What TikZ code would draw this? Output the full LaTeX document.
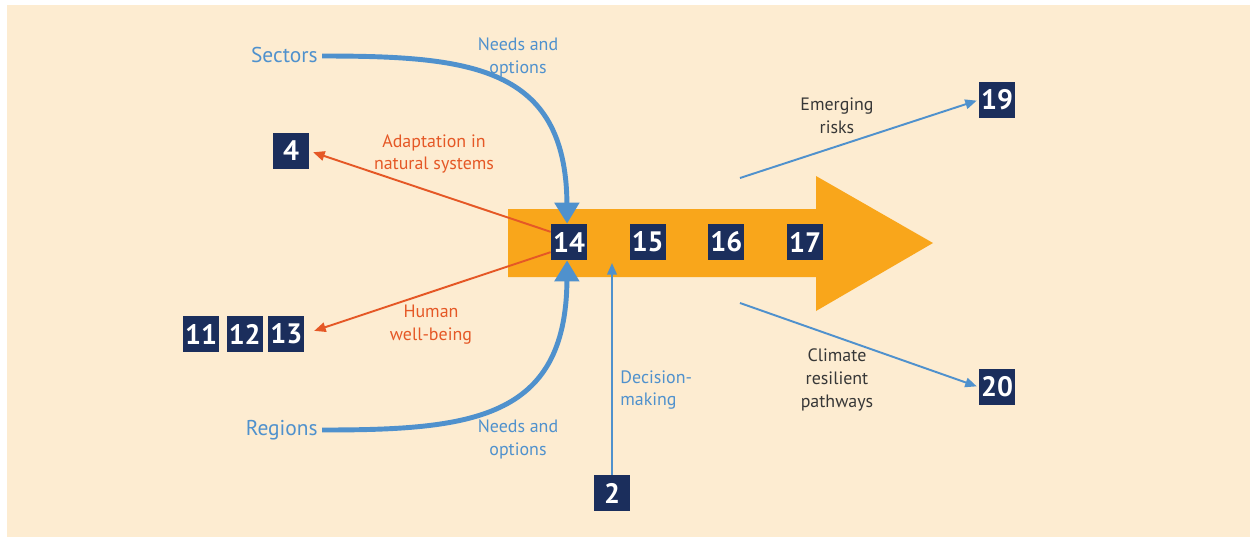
\documentclass[tikz,border=0pt]{standalone}
\usepackage{fontspec}
\setmainfont{PT Sans}
\usetikzlibrary{arrows.meta, positioning}
\definecolor{paper}{RGB}{253,236,209}
\definecolor{chapblue}{RGB}{27,46,92}
\definecolor{flowblue}{RGB}{79,145,205}
\definecolor{floworange}{RGB}{249,166,27}
\definecolor{natred}{RGB}{229,88,38}
\definecolor{inkgray}{RGB}{55,55,55}
\tikzset{
chapter/.style={fill=chapblue, text=white, inner sep=0pt, minimum size=0.72cm, font=\bfseries\fontsize{16}{16}\selectfont}, % the numbered chapter boxes
caption/.style={align=center, inner sep=0pt, font=\fontsize{10.2}{13}\selectfont}, % two or three line labels
bigflow/.style={flowblue, line width=2.8pt, -{Triangle[width=0.48cm, length=0.42cm]}}, % thick curved arrows
thinflow/.style={line width=1.1pt, -{Triangle[width=0.19cm, length=0.23cm]}}, % thin arrows
}
\begin{document}
\begin{tikzpicture}[x=0.02cm, y=-0.02cm]
      \useasboundingbox (0,0) rectangle (1252,542);
      \fill[paper] (7,5) rectangle (1250,537);

      % the big orange arrow
      \fill[floworange] (508,209) -- (816,209) -- (816,176) -- (933,243)
        -- (816,311) -- (816,277) -- (508,277) -- cycle;

      \node[chapter] (ch14) at (569,242) {14};
      \node[chapter, right=0.84cm of ch14] (ch15) {15};
      \node[chapter, right=0.84cm of ch15] (ch16) {16};
      \node[chapter, right=0.84cm of ch16] (ch17) {17};
      \node[chapter] (ch4) at (291,151) {4};
      \node[chapter] (ch11) at (201,334) {11};
      \node[chapter, right=0.14cm of ch11] (ch12) {12};
      \node[chapter, right=0.1cm of ch12] (ch13) {13};
      \node[chapter] (ch2) at (612,493) {2};
      \node[chapter] (ch19) at (997,100) {19};
      \node[chapter] (ch20) at (997,387) {20};

      \node[flowblue, anchor=east, inner sep=0pt, font=\fontsize{12.2}{14}\selectfont] (sectors) at (318,55) {Sectors};
      \node[flowblue, anchor=east, inner sep=0pt, font=\fontsize{12.2}{14}\selectfont] (regions) at (318,430) {Regions};

      \node[caption, flowblue] (needs1) at (518,57) {Needs and\\options};
      \node[caption, flowblue] (needs2) at (518,439) {Needs and\\options};
      \node[caption, natred] (natural) at (434,154) {Adaptation in\\natural systems};
      \node[caption, natred] (human) at (431,325) {Human\\well-being};
      \node[caption, flowblue, align=left, anchor=west] (decision) at (620,390) {Decision-\\making};
      \node[caption, inkgray] (risks) at (837,116) {Emerging\\risks};
      \node[caption, inkgray] (pathways) at (837,380) {Climate\\resilient\\pathways};

      \coordinate (risksfrom) at (740,178);
      \coordinate (pathsfrom) at (740,303);
      \coordinate (decisionto) at (612,263);

      \draw[bigflow] (sectors.east) ++(4,1) .. controls (470,56) and (566,66) .. (ch14.96);
      \draw[bigflow] (regions.east) ++(4,0) .. controls (470,430) and (566,420) .. (ch14.264);

      \draw (ch14.151) edge[thinflow, natred, shorten >=0.08cm] (ch4.east)
      (ch14.209) edge[thinflow, natred, shorten >=0.2cm] (ch13.east)
      (ch2) edge[thinflow, flowblue] (decisionto)
      (risksfrom) edge[thinflow, flowblue, shorten >=0.04cm] (ch19.west)
      (pathsfrom) edge[thinflow, flowblue, shorten >=0.04cm] (ch20.west);
    \end{tikzpicture}
\end{document}
